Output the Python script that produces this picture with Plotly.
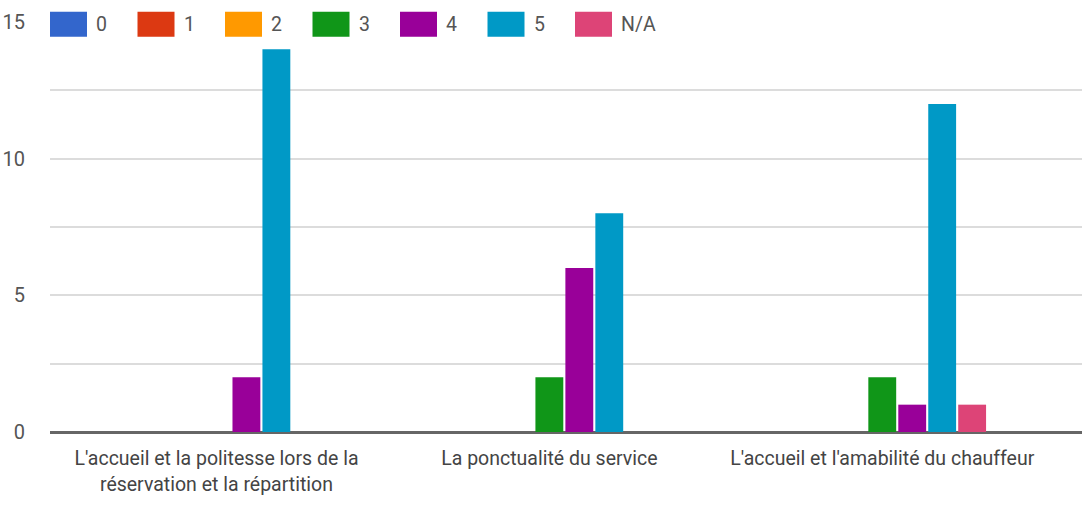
import plotly.graph_objects as go

# Survey ratings per question (counts of respondents per score)
categories = [
    "L'accueil et la politesse lors de la<br>réservation et la répartition",
    "La ponctualité du service",
    "L'accueil et l'amabilité du chauffeur",
]
series_names = ["0", "1", "2", "3", "4", "5", "N/A"]
counts = {
    "0": [0, 0, 0],
    "1": [0, 0, 0],
    "2": [0, 0, 0],
    "3": [0, 2, 2],
    "4": [2, 6, 1],
    "5": [14, 8, 12],
    "N/A": [0, 0, 1],
}
colors = ["#3366cc", "#dc3912", "#ff9900", "#109618", "#990099", "#0099c6", "#dd4477"]
y_ticks = [0, 5, 10, 15]

FONT = "Roboto, sans-serif"
W, H = 1082, 506
ML, MR, MT, MB = 50, 0, 22, 74
plot_w = W - ML - MR
plot_h = H - MT - MB

fig = go.Figure()
for name, col in zip(series_names, colors):
    fig.add_trace(go.Bar(
        x=categories, y=counts[name], name=name,
        marker=dict(color=col, line=dict(width=0)),
        showlegend=False,
    ))

# Legend drawn along the top gridline: swatch + label per series
item_step = 87.5
sw_w, sw_h = 37, 25
sw_top = 11.7
for i, (name, col) in enumerate(zip(series_names, colors)):
    px0 = ML + item_step * i
    px1 = px0 + sw_w
    fig.add_shape(
        type="rect", xref="paper", yref="paper",
        x0=(px0 - ML) / plot_w, x1=(px1 - ML) / plot_w,
        y0=(H - MB - (sw_top + sw_h)) / plot_h, y1=(H - MB - sw_top) / plot_h,
        fillcolor=col, line=dict(width=0), layer="above",
    )
    fig.add_annotation(
        text=name, xref="paper", yref="paper",
        x=(px1 + 8 - ML) / plot_w, y=(H - MB - (sw_top + sw_h / 2)) / plot_h,
        xanchor="left", yanchor="middle", showarrow=False,
        font=dict(family=FONT, size=19.5, color="#555555"),
        bgcolor="white", borderpad=0,
    )

fig.update_layout(
    width=W, height=H,
    margin=dict(l=ML, r=MR, t=MT, b=MB),
    paper_bgcolor="white", plot_bgcolor="white",
    barmode="group", bargap=0.37, bargroupgap=0.07,
    font=dict(family=FONT, size=19.5, color="#444444"),
)
fig.update_xaxes(
    range=[-0.5, 2.6], showgrid=False, showline=False, zeroline=False,
    ticks="outside", ticklen=9, tickcolor="rgba(0,0,0,0)",
    tickfont=dict(family=FONT, size=19.5, color="#444444"),
)
fig.update_yaxes(
    range=[0, 15], tickvals=y_ticks, ticktext=[str(v) for v in y_ticks],
    showgrid=True, gridcolor="#dcdcdc", gridwidth=1.5,
    minor=dict(dtick=2.5, tick0=0, showgrid=True, gridcolor="#dcdcdc", gridwidth=1.5),
    zeroline=True, zerolinecolor="#666666", zerolinewidth=2.5,
    showline=False,
    ticks="outside", ticklen=20, tickcolor="rgba(0,0,0,0)",
    tickfont=dict(family=FONT, size=20, color="#555555"),
)

fig.write_html("out.html")
